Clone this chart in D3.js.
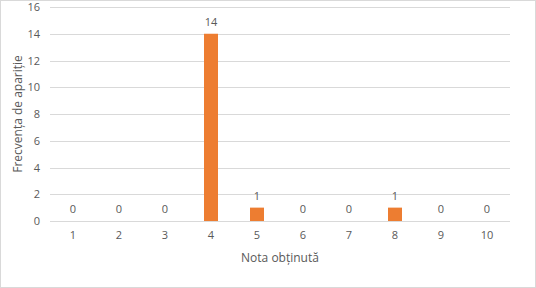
<!DOCTYPE html>
<html>
<head>
<meta charset="utf-8">
<script src="https://cdn.jsdelivr.net/npm/d3@7"></script>
<style>
  body { margin: 0; background: #fff; }
  svg text { font-family: "Open Sans", "Liberation Sans", sans-serif; fill: #595959; }
</style>
</head>
<body>
<script>
// date grafic
const note = ["1", "2", "3", "4", "5", "6", "7", "8", "9", "10"];
const frecvente = [0, 0, 0, 14, 1, 0, 0, 1, 0, 0];
const yTicks = [0, 2, 4, 6, 8, 10, 12, 14, 16];

const W = 536, H = 288;
const margin = { left: 50, right: 26, top: 7, bottom: 67 };

let svg = d3.select("body").append("svg")
    .attr("width", W)
    .attr("height", H);

// chenar exterior
svg.append("rect")
    .attr("x", 0.5).attr("y", 0.5)
    .attr("width", W - 1).attr("height", H - 1)
    .attr("fill", "#fff")
    .attr("stroke", "#d9d9d9");

let x = d3.scaleBand()
    .domain(note)
    .range([margin.left, W - margin.right])
    .paddingInner(0.696)
    .paddingOuter(0.348);

let y = d3.scaleLinear()
    .domain([0, 16])
    .range([H - margin.bottom, margin.top]);

// linii de grila
svg.append("g")
    .selectAll("line")
    .data(yTicks)
    .enter().append("line")
    .attr("x1", margin.left)
    .attr("x2", W - margin.right)
    .attr("y1", d => Math.round(y(d)) + 0.5)
    .attr("y2", d => Math.round(y(d)) + 0.5)
    .attr("stroke", "#d9d9d9");

// axa Y
let axaY = svg.append("g")
    .attr("transform", "translate(" + margin.left + ",0)")
    .style("color", "#595959")
    .call(d3.axisLeft(y).tickValues(yTicks).tickSize(0).tickPadding(10));
axaY.select(".domain").remove();
axaY.selectAll("text").style("font-size", "11px").style("fill", "#595959");

// axa X
let axaX = svg.append("g")
    .attr("transform", "translate(0," + (H - margin.bottom) + ")")
    .style("color", "#595959")
    .call(d3.axisBottom(x).tickSize(0).tickPadding(10));
axaX.select(".domain").remove();
axaX.selectAll("text").style("font-size", "11px").style("fill", "#595959");

// bare
svg.append("g")
    .selectAll("rect")
    .data(frecvente)
    .enter().append("rect")
    .attr("x", (d, i) => x(note[i]))
    .attr("y", d => y(d))
    .attr("width", x.bandwidth())
    .attr("height", d => y(0) - y(d))
    .attr("fill", "#ed7d31");

// etichete valori
svg.append("g")
    .selectAll("text")
    .data(frecvente)
    .enter().append("text")
    .attr("x", (d, i) => x(note[i]) + x.bandwidth() / 2)
    .attr("y", d => y(d) - 8)
    .attr("text-anchor", "middle")
    .style("font-size", "11px")
    .text(d => d);

// titluri axe
svg.append("text")
    .attr("x", (margin.left + W - margin.right) / 2)
    .attr("y", 262)
    .attr("text-anchor", "middle")
    .style("font-size", "12px")
    .text("Nota obținută");

svg.append("text")
    .attr("transform", "translate(22," + ((margin.top + H - margin.bottom) / 2) + ") rotate(-90)")
    .attr("text-anchor", "middle")
    .style("font-size", "12px")
    .text("Frecvența de apariție");
</script>
</body>
</html>
